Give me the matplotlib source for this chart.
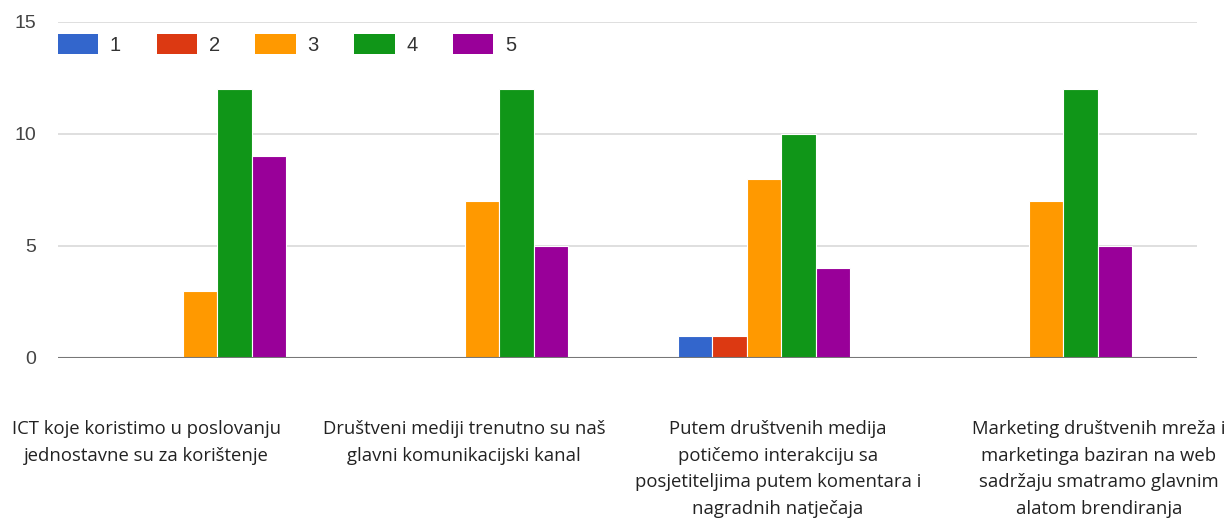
import numpy as np
import matplotlib.pyplot as plt
from matplotlib.patches import Patch
from matplotlib.transforms import ScaledTranslation

# answer counts per statement, one list per rating
categories = [
    "ICT koje koristimo u poslovanju\njednostavne su za korištenje",
    "Društveni mediji trenutno su naš\nglavni komunikacijski kanal",
    "Putem društvenih medija\npotičemo interakciju sa\nposjetiteljima putem komentara i\nnagradnih natječaja",
    "Marketing društvenih mreža i\nmarketinga baziran na web\nsadržaju smatramo glavnim\nalatom brendiranja",
]
ratings = ["1", "2", "3", "4", "5"]
rating_1 = [0, 0, 1, 0]
rating_2 = [0, 0, 1, 0]
rating_3 = [3, 7, 8, 7]
rating_4 = [12, 12, 10, 12]
rating_5 = [9, 5, 4, 5]
yticks = [0, 5, 10, 15]

colors = ["#3366cc", "#dc3912", "#ff9900", "#109618", "#990099"]
series = [rating_1, rating_2, rating_3, rating_4, rating_5]

W, H = 1227, 521
fig = plt.figure(figsize=(W / 100, H / 100), dpi=100)
ax = fig.add_axes([58 / W, 1 - 358 / H, (1197 - 58) / W, (358 - 22) / H])

x = np.arange(len(categories))
bw = 0.1223
for i, (vals, c) in enumerate(zip(series, colors)):
    ax.bar(x + (i - 2) * bw, vals, width=bw, color=c, edgecolor="white",
           linewidth=0.8, zorder=3)

ax.set_xlim(-0.504, 3.535)
ax.set_ylim(0, 15)
ax.set_yticks(yticks)
ax.set_yticklabels([str(t) for t in yticks], fontsize=14, color="#444444",
                   family="Liberation Sans")
# nudge the tick numbers a little below their gridlines
nudge = ScaledTranslation(0, -2 / 100, fig.dpi_scale_trans)
for lbl in ax.get_yticklabels():
    lbl.set_transform(lbl.get_transform() + nudge)
ax.set_xticks([])
ax.tick_params(axis="y", length=0, pad=15.5)
for s in ax.spines.values():
    s.set_visible(False)
for t in yticks[1:]:
    ax.axhline(t, color="#d9d9d9", linewidth=1.2, zorder=1)
ax.axhline(0, color="#777777", linewidth=1.5, zorder=4)

# category captions sit in a wider row of their own under the plot
label_x = [146, 464, 778, 1099]
for lx, label in zip(label_x, categories):
    fig.text(lx / W, 1 - 420 / H, label, ha="center", va="top", fontsize=13.3,
             family="Open Sans", color="#222222", linespacing=1.62)

handles = [Patch(facecolor=c, edgecolor="none") for c in colors]
leg = ax.legend(handles, ratings, loc="upper left", ncol=5,
                bbox_to_anchor=(58 / W, 1 - 34 / H), bbox_transform=fig.transFigure,
                frameon=False, prop={"family": "Liberation Sans", "size": 14.5},
                handlelength=2.0, handleheight=1.12, handletextpad=0.58,
                columnspacing=1.77, borderaxespad=0, borderpad=0)
for t in leg.get_texts():
    t.set_color("#333333")

fig.savefig("out.png", dpi=100, facecolor="white")
